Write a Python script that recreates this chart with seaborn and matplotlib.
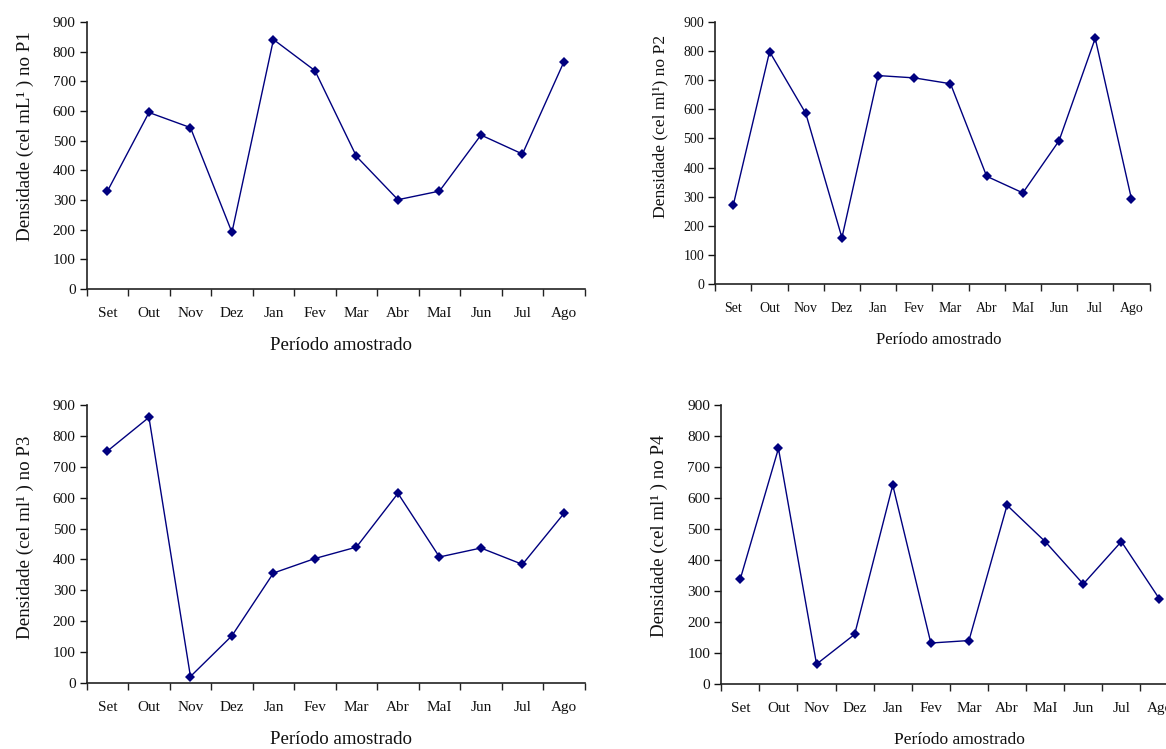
import numpy as np
import pandas as pd
import matplotlib
matplotlib.use("Agg")
import matplotlib.pyplot as plt
import seaborn as sns

months = ["Set", "Out", "Nov", "Dez", "Jan", "Fev", "Mar", "Abr", "MaI", "Jun", "Jul", "Ago"]
p1 = [330, 595, 544, 191, 841, 736, 447, 301, 330, 519, 455, 766]
p2 = [273, 798, 586, 159, 716, 708, 688, 370, 313, 492, 844, 293]
p3 = [751, 860, 21, 153, 356, 403, 440, 614, 408, 437, 384, 549]
p4 = [340, 760, 65, 161, 642, 133, 141, 577, 460, 323, 460, 275]

ylabels = ["Densidade (cel mL\u00b9 ) no P1",
           "Densidade (cel ml\u00b9) no P2",
           "Densidade (cel ml\u00b9 ) no P3",
           "Densidade (cel ml\u00b9 ) no P4"]
xlabel = "Período amostrado"
yticks = list(range(0, 1000, 100))

sns.set_theme(style="white")
plt.rcParams["font.family"] = ["Liberation Serif", "DejaVu Serif"]

W, H = 1166, 749
fig = plt.figure(figsize=(W / 100, H / 100), dpi=100)

# (left, right, top, bottom) px, tick size, ylabel size, xlabel size, ylabel (x, y), xlabel x
boxes = [
    (86.7, 584.7, 22, 289, 11, 13.7, 13.6, (-0.106, 0.573), 0.51),
    (715.3, 1149.5, 22, 284, 10, 12.6, 12, (-0.109, 0.603), 0.515),
    (86.7, 584.7, 405, 683, 11, 13.7, 13.6, (-0.106, 0.525), 0.51),
    (721.3, 1178.5, 405, 684.3, 11, 13.6, 12.5, (-0.117, 0.53), 0.52),
]
series = [p1, p2, p3, p4]

for (l, r, t, b, tfs, yfs, xfs, ypos, xpos), vals, yl in zip(boxes, series, ylabels):
    ax = fig.add_axes([l / W, 1 - b / H, (r - l) / W, (b - t) / H])
    df = pd.DataFrame({"mes": months, "dens": vals})
    sns.lineplot(data=df, x="mes", y="dens", ax=ax, color="#00007f",
                 marker="D", markersize=5, markeredgewidth=0, linewidth=1.0,
                 sort=False)
    ax.set_xlim(-0.5, len(months) - 0.5)
    ax.set_ylim(0, 900)
    ax.set_yticks(yticks)
    ax.set_xticks(range(len(months)))
    ax.set_xticklabels(months)
    ax.set_xticks(np.arange(-0.5, len(months), 1), minor=True)
    ax.tick_params(axis="x", which="major", length=0, pad=13, labelsize=tfs, colors="#111111")
    ax.tick_params(axis="x", which="minor", length=5, width=1, direction="out", color="#222222", bottom=True)
    ax.tick_params(axis="y", which="major", length=5, width=1, direction="out", pad=3,
                   labelsize=tfs, colors="#111111", left=True)
    for s in ["top", "right"]:
        ax.spines[s].set_visible(False)
    for s in ["left", "bottom"]:
        ax.spines[s].set_color("#222222")
        ax.spines[s].set_linewidth(1.2)
    ax.set_xlabel(xlabel, fontsize=xfs, labelpad=12, color="#111111")
    ax.xaxis.label.set_x(xpos)
    ax.set_ylabel(yl, fontsize=yfs, color="#111111")
    ax.yaxis.set_label_coords(*ypos)
    ax.set_facecolor("white")
    ax.grid(False)

fig.savefig("out.png", dpi=100, facecolor="white")
